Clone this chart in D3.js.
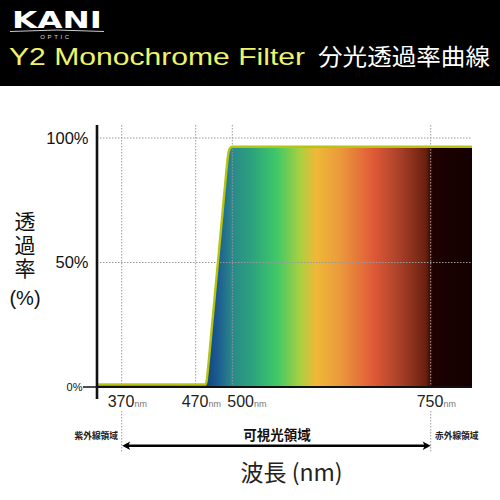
<!DOCTYPE html>
<html><head><meta charset="utf-8">
<script src="https://cdn.jsdelivr.net/npm/d3@7"></script>
<style>html,body{margin:0;padding:0;background:#fff}</style>
</head><body><svg id="c" width="500" height="500"></svg>
<script>
// ---- data ----
const wavelengths  = [336, 478, 479, 480, 484, 488, 492, 495, 496.5, 498, 500, 802];
const transmission = [1,   1,   2.5, 7,   28,  49,  70,  86,  93,    95.8, 96.5, 96.5];
const xTicks = [370, 470, 500, 750];
const xTickUnit = "nm";
const yTicks = [0, 50, 100];
const yTickLabels = ["0%", "50%", "100%"];
const titleEn = "Y2 Monochrome Filter";
const titleJa = "分光透過率曲線";
const yTitleMain = "透過率";
const yTitleUnit = "(%)";
const xTitle = "波長 (nm)";
const regionLabels = ["紫外線領域", "可視光領域", "赤外線領域"];
const brand = "KANI";
const brandSub = "OPTIC";

// ---- layout ----
const svg = d3.select("#c");
const L = 97, R = 472, T = 138, B = 387;
const x = d3.scaleLinear().domain([336, 370, 470, 500, 750, 802]).range([L, 121.7, 195.7, 232.3, 430.7, R]);
const y = d3.scaleLinear().domain([0, 100]).range([B, T]);
const latin = "'Liberation Sans', Arial, Helvetica, sans-serif";
const cjk = "'Noto Sans CJK JP', 'Noto Sans CJK SC', sans-serif";

// header
svg.append("rect").attr("x", 0).attr("y", 0).attr("width", 500).attr("height", 86).attr("fill", "#000");
svg.append("text").attr("x", 12).attr("y", 27.5).attr("font-family", "'DejaVu Sans', sans-serif")
  .attr("font-weight", "bold").attr("font-size", 23).attr("fill", "#fff")
  .attr("textLength", 90).attr("lengthAdjust", "spacingAndGlyphs").text(brand);
svg.append("path").attr("d", "M10,31.5 Q57,28.5 104,31.5").attr("fill", "none").attr("stroke", "#ccc").attr("stroke-width", 1);
svg.append("text").attr("x", 56).attr("y", 38.5).attr("text-anchor", "middle").attr("font-family", latin)
  .attr("font-size", 6).attr("letter-spacing", 2.6).attr("fill", "#ddd").text(brandSub);
svg.append("text").attr("x", 9).attr("y", 65).attr("font-family", latin).attr("font-size", 24)
  .attr("fill", "#eef36c").attr("textLength", 296).attr("lengthAdjust", "spacingAndGlyphs").text(titleEn);
svg.append("text").attr("x", 318).attr("y", 65).attr("font-family", cjk).attr("font-size", 23)
  .attr("fill", "#fff").attr("textLength", 172).attr("lengthAdjust", "spacingAndGlyphs").text(titleJa);

// gradient
const defs = svg.append("defs");
const grad = defs.append("linearGradient").attr("id", "spec").attr("gradientUnits", "userSpaceOnUse")
  .attr("x1", L).attr("x2", R).attr("y1", 0).attr("y2", 0);
[[0, "#3a2050"], [0.285, "#10407a"], [0.32, "#1a5a90"], [0.363, "#2a8a8a"], [0.408, "#2aa07e"],
 [0.48, "#40c868"], [0.541, "#a8d040"], [0.584, "#f0b838"], [0.648, "#eb9a3c"], [0.736, "#e05a38"],
 [0.808, "#a84028"], [0.877, "#6a2010"], [0.896, "#1e0202"], [1, "#140000"]]
  .forEach(([o, c]) => grad.append("stop").attr("offset", o).attr("stop-color", c));

const pts = wavelengths.map((w, i) => [w, transmission[i]]);
svg.append("path").datum(pts)
  .attr("d", d3.area().x(d => x(d[0])).y0(y(0)).y1(d => y(d[1])).curve(d3.curveMonotoneX))
  .attr("fill", "url(#spec)");

// grid
const grid = svg.append("g").attr("stroke", "#999").attr("stroke-width", 1).attr("stroke-dasharray", "1.5,1.5");
yTicks.filter(v => v > 0).forEach(v => grid.append("line").attr("x1", L).attr("x2", R).attr("y1", y(v)).attr("y2", y(v)));
xTicks.forEach(v => grid.append("line").attr("x1", x(v)).attr("x2", x(v)).attr("y1", 125).attr("y2", B));
[370, 750].forEach(v => grid.append("line").attr("x1", x(v)).attr("x2", x(v)).attr("y1", 411).attr("y2", 452));

// curve outline
svg.append("path").datum(pts)
  .attr("d", d3.line().x(d => x(d[0])).y(d => y(d[1])).curve(d3.curveMonotoneX))
  .attr("fill", "none").attr("stroke", "#b6c410").attr("stroke-width", 2.4);

// axes
svg.append("line").attr("x1", L).attr("x2", R).attr("y1", B).attr("y2", B).attr("stroke", "#111").attr("stroke-width", 2.2);
svg.append("line").attr("x1", L).attr("x2", L).attr("y1", 125).attr("y2", 399).attr("stroke", "#111").attr("stroke-width", 2.6);
svg.append("line").attr("x1", 83).attr("x2", L).attr("y1", B).attr("y2", B).attr("stroke", "#111").attr("stroke-width", 1.5);

// y tick labels
yTicks.forEach((v, i) => {
  const small = v === 0;
  svg.append("text").attr("x", small ? 82.5 : 88.5).attr("y", y(v) + (small ? 4 : 5.8))
    .attr("text-anchor", "end").attr("font-family", latin).attr("font-size", small ? 11 : 16.5)
    .attr("fill", "#111").text(yTickLabels[i]);
});

// x tick labels
xTicks.forEach(v => {
  const shift = v === 500 ? 9 : 0;
  const t = svg.append("text").attr("x", x(v) - 14 + shift).attr("y", 406.5)
    .attr("font-family", latin).attr("fill", "#222");
  t.append("tspan").attr("font-size", 16).text(v);
  t.append("tspan").attr("font-size", 9).attr("fill", "#777").text(xTickUnit);
});

// y title (vertical)
svg.append("text").attr("x", 25).attr("y", 211)
  .style("writing-mode", "vertical-rl").attr("letter-spacing", 2.5)
  .attr("font-family", cjk).attr("font-size", 21).attr("fill", "#111").text(yTitleMain);
svg.append("text").attr("x", 25).attr("y", 304.5).attr("text-anchor", "middle")
  .attr("font-family", latin).attr("font-size", 20).attr("fill", "#111").text(yTitleUnit);

// region labels and arrow
svg.append("text").attr("x", 74.5).attr("y", 439).attr("font-family", cjk).attr("font-weight", "bold")
  .attr("font-size", 8.7).attr("fill", "#222").text(regionLabels[0]);
svg.append("text").attr("x", 277).attr("y", 439.5).attr("text-anchor", "middle").attr("font-family", cjk)
  .attr("font-weight", "bold").attr("font-size", 13.5).attr("fill", "#111").text(regionLabels[1]);
svg.append("text").attr("x", 435).attr("y", 439).attr("font-family", cjk).attr("font-weight", "bold")
  .attr("font-size", 8.7).attr("fill", "#222").text(regionLabels[2]);
const ay = 445.7, xa = x(370) + 0.5, xb = x(750);
svg.append("line").attr("x1", xa + 5).attr("x2", xb - 5).attr("y1", ay).attr("y2", ay).attr("stroke", "#000").attr("stroke-width", 2.4);
svg.append("path").attr("d", `M${xa},${ay} L${xa + 8},${ay - 4.2} L${xa + 6},${ay} L${xa + 8},${ay + 4.2} Z`).attr("fill", "#000");
svg.append("path").attr("d", `M${xb},${ay} L${xb - 8},${ay - 4.2} L${xb - 6},${ay} L${xb - 8},${ay + 4.2} Z`).attr("fill", "#000");

// x title
svg.append("text").attr("x", 291.5).attr("y", 481).attr("text-anchor", "middle").attr("font-family", cjk)
  .attr("font-size", 23).attr("fill", "#222").text(xTitle);
</script></body></html>
